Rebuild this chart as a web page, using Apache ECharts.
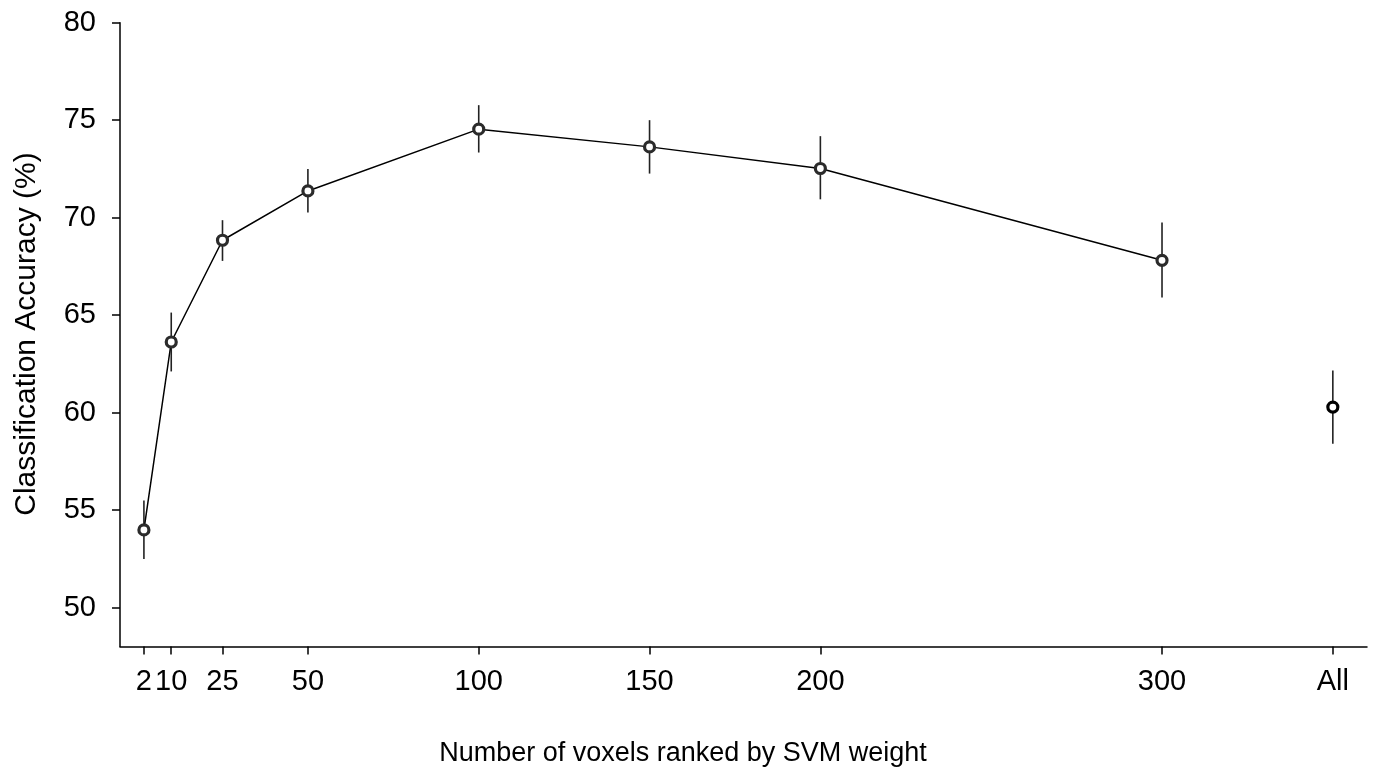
<!DOCTYPE html>
<html>
<head>
<meta charset="utf-8">
<script src="https://cdn.jsdelivr.net/npm/echarts@6/dist/echarts.min.js"></script>
<style>
html,body{margin:0;padding:0;background:#fff;}
#chart{width:1378px;height:773px;}
</style>
</head>
<body>
<div id="chart"></div>
<script>
// Data
const categories = ['2', '10', '25', '50', '100', '150', '200', '300', 'All'];
const xPositions = [2, 10, 25, 50, 100, 150, 200, 300, 350];
const accuracy = [53.98, 63.62, 68.84, 71.37, 74.54, 73.63, 72.52, 67.81, 60.28];
const errHigh = [55.49, 65.13, 69.87, 72.49, 75.77, 75.00, 74.18, 69.75, 62.16];
const errLow = [52.49, 62.11, 67.78, 70.26, 73.34, 72.26, 70.94, 65.90, 58.40];
const yTicks = [50, 55, 60, 65, 70, 75, 80];

const FONT = '"Liberation Sans", Arial, sans-serif';

const lineData = [];
for (let i = 0; i < 8; i++) lineData.push([xPositions[i], accuracy[i]]);
const allData = [[xPositions[8], accuracy[8]]];
const errData = xPositions.map((x, i) => [x, errLow[i], errHigh[i]]);

const chart = echarts.init(document.getElementById('chart'), null, {renderer: 'canvas'});
chart.setOption({
  backgroundColor: '#fff',
  animation: false,
  grid: {left: 120, right: 11, top: 22.7, bottom: 126.5, containLabel: false},
  xAxis: {
    type: 'value', min: -5, max: 360,
    axisLine: {show: true, onZero: false, lineStyle: {color: '#000', width: 1.5}},
    axisTick: {show: true, length: 8, customValues: xPositions, lineStyle: {color: '#000', width: 1.5}},
    axisLabel: {
      customValues: xPositions, margin: 21, color: '#000', fontSize: 29, fontFamily: FONT,
      formatter: function (v) { const i = xPositions.indexOf(v); return i >= 0 ? categories[i] : ''; }
    },
    splitLine: {show: false}
  },
  yAxis: {
    type: 'value', min: 48, max: 80,
    axisLine: {show: true, onZero: false, lineStyle: {color: '#000', width: 1.5}},
    axisTick: {show: true, length: 8, customValues: yTicks, lineStyle: {color: '#000', width: 1.5}},
    axisLabel: {customValues: yTicks, margin: 24, color: '#000', fontSize: 29, fontFamily: FONT},
    splitLine: {show: false}
  },
  graphic: [
    {type: 'text', x: 683, y: 754, style: {text: 'Number of voxels ranked by SVM weight', fontSize: 27, fontFamily: FONT, fill: '#000', align: 'center', verticalAlign: 'middle'}},
    {type: 'text', x: 27, y: 334, rotation: Math.PI / 2, style: {text: 'Classification Accuracy (%)', fontSize: 30, fontFamily: FONT, fill: '#000', align: 'center', verticalAlign: 'middle'}}
  ],
  series: [
    {
      type: 'custom', data: errData, z: 1,
      renderItem: function (params, api) {
        const p1 = api.coord([api.value(0), api.value(1)]);
        const p2 = api.coord([api.value(0), api.value(2)]);
        return {type: 'line', shape: {x1: p1[0], y1: p1[1], x2: p2[0], y2: p2[1]}, style: {stroke: '#222', lineWidth: 1.6}};
      }
    },
    {
      type: 'line', data: lineData, z: 2,
      lineStyle: {color: '#000', width: 1.5},
      symbol: 'circle', symbolSize: 10,
      itemStyle: {color: '#fff', borderColor: '#2b2b2b', borderWidth: 3.2}
    },
    {
      type: 'scatter', data: allData, z: 3,
      symbol: 'circle', symbolSize: 10,
      itemStyle: {color: '#fff', borderColor: '#000', borderWidth: 3.2, opacity: 1}
    }
  ]
});
</script>
</body>
</html>
